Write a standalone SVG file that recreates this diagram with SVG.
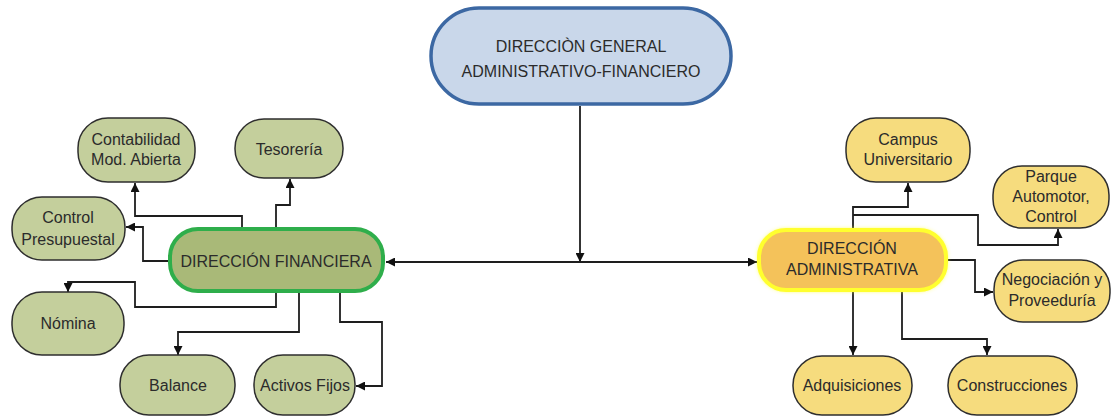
<svg xmlns="http://www.w3.org/2000/svg" width="1112" height="417" viewBox="0 0 1112 417">
<style>
text{font-family:"Liberation Sans",Arial,sans-serif;fill:#2b2b2b;text-anchor:middle}
.s{font-size:16px}
.g{fill:#c4cf9c;stroke:#2e2e2e;stroke-width:1.5}
.y{fill:#f6dc7e;stroke:#2e2e2e;stroke-width:1.5}
.c{fill:none;stroke:#1e1e1e;stroke-width:1.8}
</style>
<defs>
<marker id="a" viewBox="0 0 10 10" refX="10" refY="5" markerWidth="9" markerHeight="9" markerUnits="userSpaceOnUse" orient="auto">
<path d="M0,0L10,5L0,10z" fill="#111"/>
</marker>
<filter id="glow" x="-20%" y="-30%" width="140%" height="160%">
<feGaussianBlur stdDeviation="2"/>
</filter>
</defs>
<rect width="1112" height="417" fill="#fff"/>

<g id="connectors">
<path class="c" d="M580,106V262" marker-end="url(#a)"/>
<path class="c" d="M580,262H386" marker-end="url(#a)"/>
<path class="c" d="M580,262H757" marker-end="url(#a)"/>
<path class="c" d="M242,228V216H135V183" marker-end="url(#a)"/>
<path class="c" d="M276,228V205H290V179" marker-end="url(#a)"/>
<path class="c" d="M170,261H143V227H126" marker-end="url(#a)"/>
<path class="c" d="M276,292V307H135V282H68V292" marker-end="url(#a)"/>
<path class="c" d="M299,292V332H178V355" marker-end="url(#a)"/>
<path class="c" d="M340,292V322H382V386H356" marker-end="url(#a)"/>
<path class="c" d="M853,228V207H908V183" marker-end="url(#a)"/>
<path class="c" d="M853,215H978V245H1058V229" marker-end="url(#a)"/>
<path class="c" d="M947,260H975V292H993" marker-end="url(#a)"/>
<path class="c" d="M853,292V355" marker-end="url(#a)"/>
<path class="c" d="M902,292V339H987V355" marker-end="url(#a)"/>
</g>

<g id="general">
<rect x="431" y="8" width="300" height="96" rx="48" fill="#c9d7ea" stroke="#3c68a3" stroke-width="3.5"/>
<text x="581" y="52" style="font-size:16px">DIRECCIÒN GENERAL</text>
<text x="581" y="77" style="font-size:16px">ADMINISTRATIVO-FINANCIERO</text>
</g>

<g id="financiera">
<rect x="170" y="229" width="213" height="62" rx="28" fill="#a9b978" stroke="#2fae4b" stroke-width="4"/>
<text x="276" y="267" class="s">DIRECCIÓN FINANCIERA</text>
</g>

<g id="contabilidad">
<rect x="78" y="118" width="117" height="64" rx="30" class="g"/>
<text x="136" y="145" class="s">Contabilidad</text>
<text x="136" y="165" class="s">Mod. Abierta</text>
</g>
<g id="tesoreria">
<rect x="235" y="119" width="108" height="59" rx="29" class="g"/>
<text x="289" y="155" class="s">Tesorería</text>
</g>
<g id="control">
<rect x="12" y="197" width="113" height="63" rx="30" class="g"/>
<text x="68" y="223" class="s">Control</text>
<text x="68" y="245" class="s">Presupuestal</text>
</g>
<g id="nomina">
<rect x="12" y="292" width="112" height="63" rx="30" class="g"/>
<text x="68" y="329" class="s">Nómina</text>
</g>
<g id="balance">
<rect x="120" y="355" width="115" height="60" rx="29" class="g"/>
<text x="178" y="391" class="s">Balance</text>
</g>
<g id="activos">
<rect x="254" y="355" width="101" height="60" rx="29" class="g"/>
<text x="305" y="391" class="s">Activos Fijos</text>
</g>

<g id="administrativa">
<rect x="758" y="229" width="189" height="62" rx="28" fill="#ffff40" filter="url(#glow)"/>
<rect x="759" y="230" width="187" height="60" rx="27" fill="#f4c25a" stroke="#ffff2e" stroke-width="4"/>
<text x="852" y="254" class="s">DIRECCIÓN</text>
<text x="852" y="275" class="s">ADMINISTRATIVA</text>
</g>

<g id="campus">
<rect x="846" y="118" width="124" height="64" rx="30" class="y"/>
<text x="908" y="145" class="s">Campus</text>
<text x="908" y="165" class="s">Universitario</text>
</g>
<g id="parque">
<rect x="993" y="166" width="116" height="62" rx="29" class="y"/>
<text x="1051" y="182" class="s">Parque</text>
<text x="1051" y="202" class="s">Automotor,</text>
<text x="1051" y="222" class="s">Control</text>
</g>
<g id="negociacion">
<rect x="994" y="260" width="116" height="62" rx="29" class="y"/>
<text x="1052" y="285" class="s">Negociación y</text>
<text x="1052" y="306" class="s">Proveeduría</text>
</g>
<g id="adquisiciones">
<rect x="793" y="356" width="119" height="59" rx="29" class="y"/>
<text x="852" y="391" class="s">Adquisiciones</text>
</g>
<g id="construcciones">
<rect x="948" y="356" width="129" height="59" rx="29" class="y"/>
<text x="1012" y="391" class="s">Construcciones</text>
</g>
</svg>
